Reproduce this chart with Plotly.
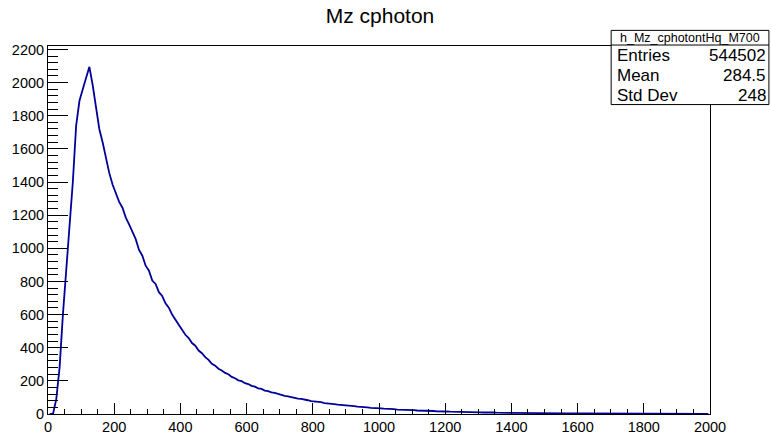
import plotly.graph_objects as go

# ---- data (per-bin counts, 10-unit bins from 0 to 2000) ----
bin_width = 10
x_start = 0
counts = [
    0, 0, 90, 280, 600, 880, 1110, 1400, 1740, 1890,
    1960, 2035, 2095, 1985, 1850, 1720, 1640, 1545, 1455, 1385,
    1335, 1280, 1245, 1185, 1145, 1095, 1055, 990, 955, 895,
    865, 805, 785, 735, 712, 668, 642, 600, 572, 538,
    508, 478, 458, 428, 412, 383, 367, 343, 327, 303,
    292, 273, 263, 248, 240, 224, 216, 203, 198, 186,
    181, 170, 165, 155, 151, 141, 138, 130, 127, 120,
    117, 110, 107, 101, 99, 93, 91, 85, 83, 78,
    77, 72, 71, 66, 65, 61, 60, 56, 55, 52,
    52, 48, 47, 44, 44, 40, 40, 37, 37, 34,
    34, 32, 32, 29, 29, 27, 27, 25, 25, 23,
    23, 21, 21, 19, 20, 18, 18, 16, 17, 15,
    15, 14, 14, 13, 13, 12, 12, 11, 11, 10,
    10, 9, 10, 8, 9, 8, 8, 7, 8, 7,
    7, 6, 7, 6, 6, 5, 6, 5, 5, 5,
    5, 4, 5, 4, 4, 4, 4, 3, 4, 3,
    3, 3, 3, 3, 3, 2, 3, 2, 2, 2,
    2, 2, 2, 2, 2, 2, 2, 2, 2, 1,
    2, 1, 2, 1, 1, 1, 1, 1, 1, 1,
    1, 1, 1, 1, 1, 1, 1, 1, 1, 1,
]
x_ticks = [0, 200, 400, 600, 800, 1000, 1200, 1400, 1600, 1800, 2000]
y_ticks = [0, 200, 400, 600, 800, 1000, 1200, 1400, 1600, 1800, 2000, 2200]
title = "Mz cphoton"
stats_name = "h_Mz_cphotontHq_M700"
stats_rows = [("Entries", "544502"), ("Mean", "284.5"), ("Std Dev", "248")]

centers = [x_start + (i + 0.5) * bin_width for i in range(len(counts))]

W, H = 771, 447
L, R, T, B = 47, 710, 46, 423
y_max = max(counts) * 1.06

def px(xp):
    return (xp - L) / (R - L)

def py(yp):
    return (B - yp) / (B - T)

fig = go.Figure()
fig.add_trace(go.Scatter(
    x=centers, y=counts, mode="lines", line=dict(color="#000099", width=1.8),
    hoverinfo="skip", showlegend=False,
))

font = "Liberation Sans"
fig.update_layout(
    width=W, height=H,
    margin=dict(l=L, r=W - R, t=T, b=H - B, pad=0),
    paper_bgcolor="white", plot_bgcolor="white",
    font=dict(family=font, color="black", size=14),
    title=dict(text=title, x=380 / W, xanchor="center", y=1 - 15.5 / H, yanchor="middle",
               font=dict(size=21, family=font)),
    showlegend=False,
)
fig.update_xaxes(
    range=[0, 2000], tickvals=x_ticks, ticks="inside", ticklen=11, tickwidth=1,
    tickcolor="black", showgrid=False, zeroline=False, showline=True, linecolor="black",
    linewidth=1, mirror=True, tickfont=dict(size=14.5),
    minor=dict(ticks="inside", ticklen=5, dtick=50, tickcolor="black", showgrid=False),
)
fig.update_yaxes(
    range=[0, y_max], tickvals=y_ticks, ticks="inside", ticklen=20, tickwidth=1,
    tickcolor="black", showgrid=False, zeroline=False, showline=True, linecolor="black",
    linewidth=1, mirror=True, tickfont=dict(size=14.5),
    minor=dict(ticks="inside", ticklen=10, dtick=40, tickcolor="black", showgrid=False),
)

# stats box
bx0, bx1, by0, by1, bsep = 611, 769, 30, 106, 45
fig.add_shape(type="rect", xref="paper", yref="paper",
              x0=px(bx0), x1=px(bx1), y0=py(by1), y1=py(by0),
              line=dict(color="black", width=1), fillcolor="white", layer="above")
fig.add_shape(type="line", xref="paper", yref="paper",
              x0=px(bx0), x1=px(bx1), y0=py(bsep), y1=py(bsep),
              line=dict(color="black", width=1), layer="above")
fig.add_annotation(xref="paper", yref="paper", x=px((bx0 + bx1) / 2), y=py(38),
                   text=stats_name, showarrow=False, xanchor="center", yanchor="middle",
                   font=dict(size=12.5, family=font))
row_y = [56, 76.5, 96.5]
for (k, v), yy in zip(stats_rows, row_y):
    fig.add_annotation(xref="paper", yref="paper", x=px(bx0 + 4), y=py(yy), text=k,
                       showarrow=False, xanchor="left", yanchor="middle",
                       font=dict(size=17, family=font))
    fig.add_annotation(xref="paper", yref="paper", x=px(bx1 - 1), y=py(yy), text=v,
                       showarrow=False, xanchor="right", yanchor="middle",
                       font=dict(size=17, family=font))

fig.write_html("out.html")
